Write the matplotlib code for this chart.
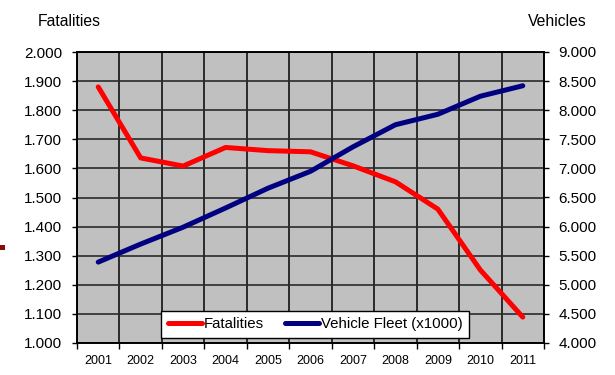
import matplotlib
matplotlib.use("Agg")
import matplotlib.pyplot as plt
from matplotlib.ticker import FuncFormatter, FixedLocator
from matplotlib.patches import Rectangle
import numpy as np

years = ["2001", "2002", "2003", "2004", "2005", "2006", "2007", "2008", "2009", "2010", "2011"]
fatalities = [1880, 1636, 1608, 1672, 1661, 1657, 1609, 1554, 1460, 1251, 1089]
vehicles = [5390, 5700, 5990, 6320, 6660, 6950, 7370, 7750, 7930, 8240, 8420]
left_ticks = [1000, 1100, 1200, 1300, 1400, 1500, 1600, 1700, 1800, 1900, 2000]
right_ticks = [4000, 4500, 5000, 5500, 6000, 6500, 7000, 7500, 8000, 8500, 9000]

plt.rcParams['font.family'] = ['Liberation Sans', 'DejaVu Sans']

def dotfmt(v, pos=None):
    return f"{int(round(v)):,}".replace(",", ".")

fig = plt.figure(figsize=(6.15, 3.75), dpi=100)
ax = fig.add_axes([77/615, 1-343/375, (544-77)/615, (343-52)/375])
ax.set_facecolor("#C0C0C0")

x = np.arange(len(years))
ax.set_xlim(-0.5, len(years) - 0.5)
ax.set_ylim(1000, 2000)
ax.yaxis.set_major_locator(FixedLocator(left_ticks))
ax.yaxis.set_major_formatter(FuncFormatter(dotfmt))
ax.set_xticks(x)
ax.set_xticklabels(years)
ax.tick_params(axis='x', which='major', length=0, labelsize=9, pad=9)
ax.set_xticks(np.arange(-0.5, len(years), 1.0), minor=True)
ax.tick_params(axis='x', which='minor', length=4, width=1, color='black')
ax.tick_params(axis='y', labelsize=11, length=3.6, width=1, pad=7)

ax.grid(True, axis='y', color='#2a2a2a', linewidth=1.2)
ax.grid(True, axis='x', which='minor', color='#111111', linewidth=1.2)
ax.set_axisbelow(True)
for s in ax.spines.values():
    s.set_color('black')
    s.set_linewidth(1.2)

l1, = ax.plot(x, fatalities, color='#FF0000', linewidth=3.6, solid_capstyle='round',
              solid_joinstyle='round', label='Fatalities', zorder=3)

ax2 = ax.twinx()
ax2.set_ylim(4000, 9000)
ax2.yaxis.set_major_locator(FixedLocator(right_ticks))
ax2.yaxis.set_major_formatter(FuncFormatter(dotfmt))
ax2.tick_params(axis='y', labelsize=11, length=3.6, width=1, pad=7)
l2, = ax2.plot(x, vehicles, color='#000080', linewidth=3.6, solid_capstyle='round',
               solid_joinstyle='round', label='Vehicle Fleet (x1000)', zorder=3)
for s in ax2.spines.values():
    s.set_color('black')
    s.set_linewidth(1.2)

fig.text(38/615, 1-21/375, "Fatalities", fontsize=11.3, va='center', ha='left')
fig.text(528/615, 1-21/375, "Vehicles", fontsize=11.3, va='center', ha='left')

leg = ax2.legend(handles=[l1, l2], loc='lower left',
                 bbox_to_anchor=(161/615, 1-338/375, (469-161)/615, (338-306)/375),
                 bbox_transform=fig.transFigure, ncol=2, fontsize=10.8,
                 frameon=True, fancybox=False, borderaxespad=0, handlelength=2.3,
                 handletextpad=0.1, columnspacing=0.8, borderpad=0.45, mode='expand')
leg.get_frame().set_edgecolor('black')
leg.get_frame().set_linewidth(1.0)
leg.get_frame().set_facecolor('white')
leg.get_frame().set_alpha(1)

fig.patches.append(Rectangle((0, 1-250/375), 5/615, 5/375, transform=fig.transFigure,
                             facecolor='#8B0A0A', edgecolor='none'))

fig.savefig("out.png", dpi=100)
